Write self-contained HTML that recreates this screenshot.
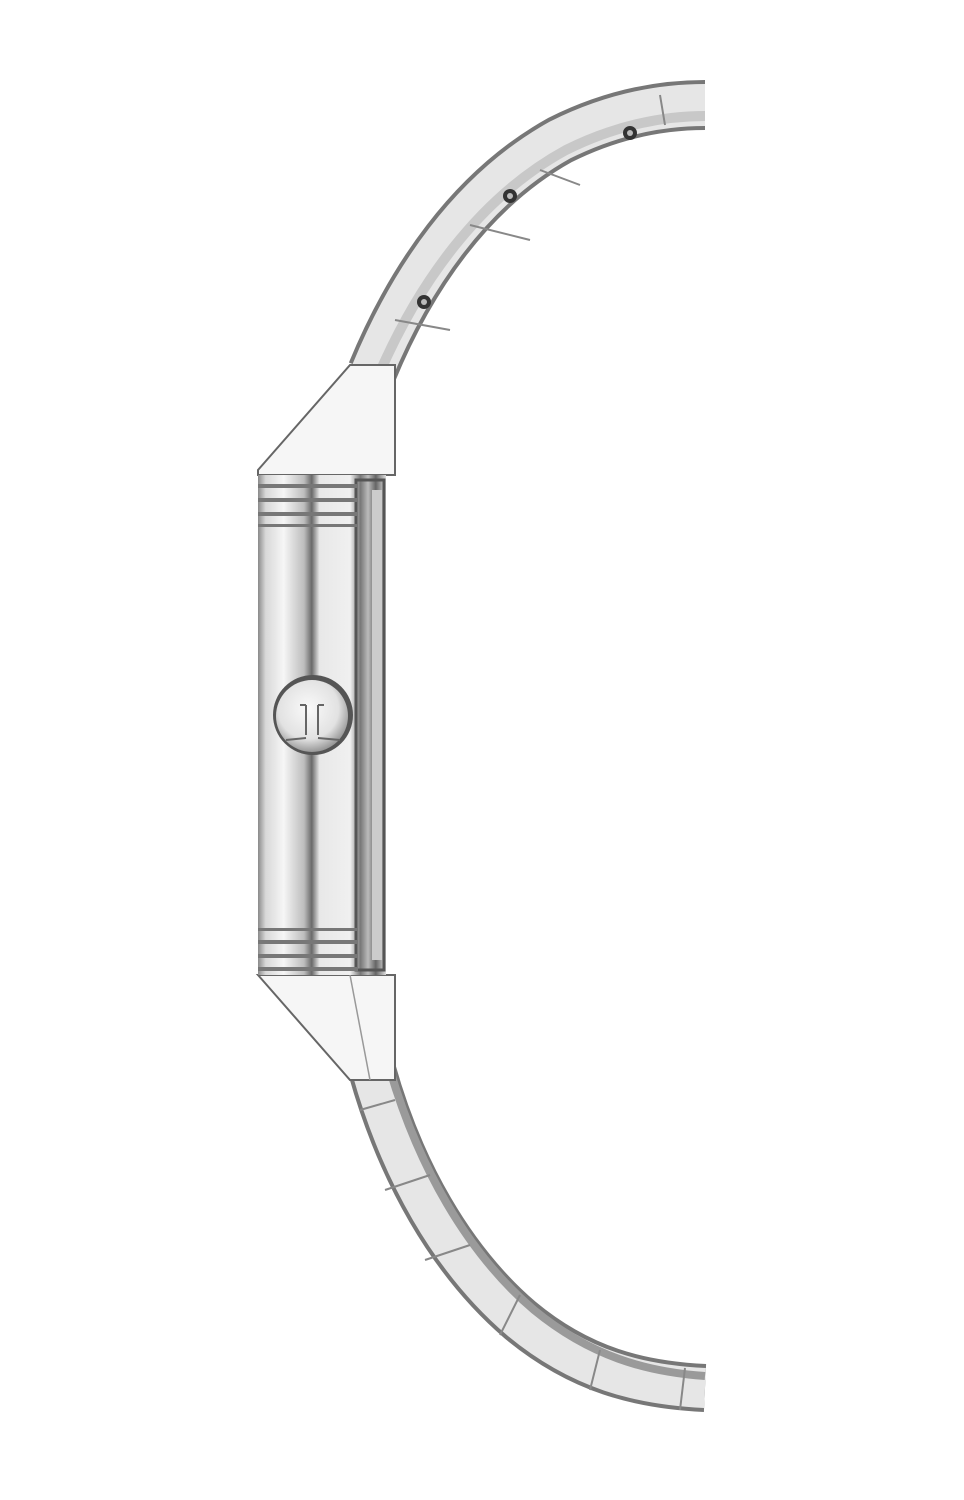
<!DOCTYPE html>
<html><head><style>html,body{margin:0;padding:0;background:#fff;width:964px;height:1500px;overflow:hidden}</style></head>
<body>
<svg width="964" height="1500" viewBox="0 0 964 1500" xmlns="http://www.w3.org/2000/svg">
<defs>
<linearGradient id="cs" x1="0" x2="1" y1="0" y2="0">
<stop offset="0" stop-color="#8a8a8a"/><stop offset="0.06" stop-color="#d8d8d8"/><stop offset="0.2" stop-color="#f6f6f6"/><stop offset="0.36" stop-color="#bdbdbd"/><stop offset="0.42" stop-color="#6a6a6a"/><stop offset="0.48" stop-color="#e8e8e8"/><stop offset="0.72" stop-color="#f0f0f0"/><stop offset="0.8" stop-color="#777"/><stop offset="0.86" stop-color="#bbb"/><stop offset="0.92" stop-color="#666"/><stop offset="1" stop-color="#ddd"/>
</linearGradient>
<radialGradient id="cr" cx="0.45" cy="0.4" r="0.6"><stop offset="0" stop-color="#fafafa"/><stop offset="0.7" stop-color="#e2e2e2"/><stop offset="1" stop-color="#999"/></radialGradient>
</defs>
<!-- upper bracelet -->
<path d="M372,372 C410,280 470,190 560,140 C610,115 660,105 705,105" fill="none" stroke="#777" stroke-width="50"/>
<path d="M372,372 C410,280 470,190 560,140 C610,115 660,105 705,105" fill="none" stroke="#e6e6e6" stroke-width="42"/>
<path d="M380,372 C418,285 478,198 566,150 C614,126 662,116 705,116" fill="none" stroke="#c8c8c8" stroke-width="10"/>
<g fill="#333"><circle cx="424" cy="302" r="7"/><circle cx="510" cy="196" r="7"/><circle cx="630" cy="133" r="7"/></g>
<g fill="#bbb"><circle cx="424" cy="302" r="3"/><circle cx="510" cy="196" r="3"/><circle cx="630" cy="133" r="3"/></g>
<g stroke="#888" stroke-width="2" fill="none"><path d="M395,320 L450,330"/><path d="M470,225 L530,240"/><path d="M540,170 L580,185"/><path d="M660,95 L665,125"/></g>
<!-- lower bracelet -->
<path d="M372,1070 C400,1170 450,1260 520,1320 C580,1370 640,1385 705,1388" fill="none" stroke="#777" stroke-width="48"/>
<path d="M372,1070 C400,1170 450,1260 520,1320 C580,1370 640,1385 705,1388" fill="none" stroke="#e6e6e6" stroke-width="40"/>
<path d="M390,1070 C418,1165 466,1252 534,1310 C590,1356 646,1372 705,1376" fill="none" stroke="#9a9a9a" stroke-width="8"/>
<g stroke="#888" stroke-width="2" fill="none"><path d="M360,1110 L395,1100"/><path d="M385,1190 L430,1175"/><path d="M425,1260 L470,1245"/><path d="M500,1335 L520,1295"/><path d="M590,1390 L600,1350"/><path d="M680,1410 L685,1368"/></g>
<!-- lugs -->
<path d="M258,470 L350,365 L395,365 L395,475 L258,475 Z" fill="#f6f6f6" stroke="#666" stroke-width="2"/>
<path d="M258,975 L350,1080 L395,1080 L395,975 Z" fill="#f6f6f6" stroke="#666" stroke-width="2"/>
<path d="M350,975 L370,1080" stroke="#999" stroke-width="1.5"/>
<!-- case -->
<rect x="258" y="475" width="128" height="500" fill="url(#cs)"/>
<rect x="356" y="480" width="28" height="490" fill="none" stroke="#555" stroke-width="3"/>
<rect x="372" y="490" width="10" height="470" fill="#ccc"/>
<g fill="#777">
<rect x="258" y="484" width="100" height="4"/><rect x="258" y="498" width="100" height="4"/><rect x="258" y="512" width="100" height="4"/><rect x="258" y="524" width="100" height="3"/>
<rect x="258" y="928" width="100" height="3"/><rect x="258" y="940" width="100" height="4"/><rect x="258" y="954" width="100" height="4"/><rect x="258" y="967" width="100" height="4"/>
</g>
<!-- crown -->
<circle cx="313" cy="715" r="40" fill="#555"/>
<circle cx="312" cy="716" r="36" fill="url(#cr)"/>
<path d="M306,705 L306,735 M318,705 L318,735 M300,705 L306,705 M318,705 L324,705 M286,740 L306,738 M318,738 L340,740" stroke="#666" stroke-width="2" fill="none"/>
</svg>
</body></html>
